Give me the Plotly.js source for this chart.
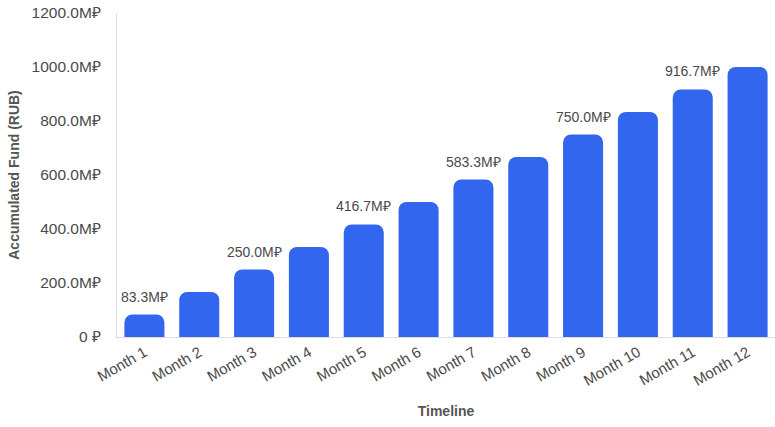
<!DOCTYPE html>
<html>
<head>
<meta charset="utf-8">
<script src="https://cdn.plot.ly/plotly-3.0.1.min.js"></script>
<style>
  html, body { margin: 0; padding: 0; background: #ffffff; }
  #chart { width: 775px; height: 427px; }
</style>
</head>
<body>
<div id="chart"></div>
<script>
// accumulated fund per month, millions of rubles
var months = ["Month 1", "Month 2", "Month 3", "Month 4", "Month 5", "Month 6",
              "Month 7", "Month 8", "Month 9", "Month 10", "Month 11", "Month 12"];
var fund = [83.3, 166.7, 250.0, 333.3, 416.7, 500.0, 583.3, 666.7, 750.0, 833.3, 916.7, 1000.0];
var labelled = [0, 2, 4, 6, 8, 10];

var yTickVals = [0, 200, 400, 600, 800, 1000, 1200];
var yTickText = ["0 \u20bd", "200.0M\u20bd", "400.0M\u20bd", "600.0M\u20bd", "800.0M\u20bd", "1000.0M\u20bd", "1200.0M\u20bd"];

var txtColor = "#4a4a4a";
var fontFam = "Liberation Sans, Arial, sans-serif";

// value labels over every other bar
var notes = [];
for (var i = 0; i < labelled.length; i++) {
  var k = labelled[i];
  notes.push({
    x: months[k],
    y: fund[k],
    text: fund[k].toFixed(1) + "M\u20bd",
    showarrow: false,
    yanchor: "bottom",
    yshift: 8,
    font: {family: fontFam, size: 14, color: txtColor}
  });
}

var layout = {
  width: 775,
  height: 427,
  margin: {l: 117, r: 0, t: 13, b: 90},
  paper_bgcolor: "#ffffff",
  plot_bgcolor: "#ffffff",
  showlegend: false,
  bargap: 0.27,
  font: {family: fontFam, color: txtColor},
  xaxis: {
    tickangle: -30,
    tickfont: {family: fontFam, size: 15, color: txtColor},
    showline: true,
    linecolor: "#dddddd",
    linewidth: 1,
    showgrid: false,
    ticks: "",
    title: {text: "Timeline", font: {family: fontFam, size: 14, color: "#555555", weight: "bold"}, standoff: 18}
  },
  yaxis: {
    range: [0, 1200],
    tickvals: yTickVals,
    ticktext: yTickText,
    tickfont: {family: fontFam, size: 15.5, color: txtColor},
    showline: true,
    linecolor: "#dddddd",
    linewidth: 1,
    showgrid: false,
    zeroline: false,
    ticks: "",
    ticklabelstandoff: 12,
    title: {text: "Accumulated Fund (RUB)", font: {family: fontFam, size: 14, color: "#555555", weight: "bold"}, standoff: 8}
  },
  annotations: notes
};

Plotly.newPlot("chart", [{
  type: "bar",
  x: months,
  y: fund,
  marker: {color: "#3366ee", cornerradius: 8},
  hoverinfo: "x+y"
}], layout, {displayModeBar: false, staticPlot: true});
</script>
</body>
</html>
